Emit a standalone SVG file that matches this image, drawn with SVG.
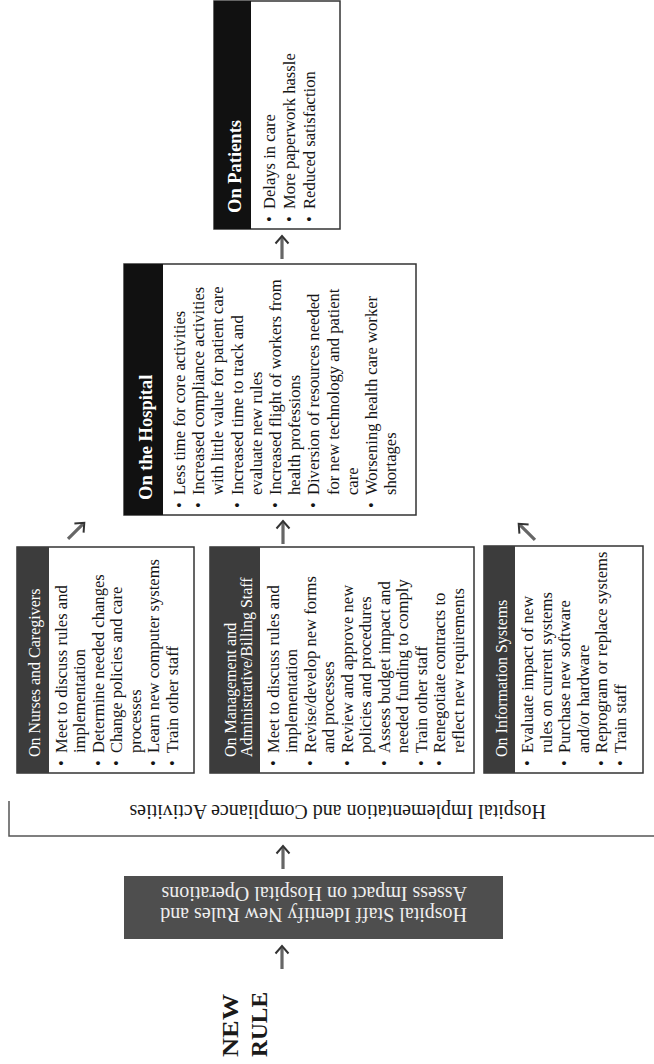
<svg xmlns="http://www.w3.org/2000/svg" xmlns:xlink="http://www.w3.org/1999/xlink" width="654" height="1064" viewBox="0 0 654 1064">
<style>
.t{font-family:"Liberation Serif","Times New Roman",serif;font-size:16.6px;fill:#151515}
.h{font-family:"Liberation Serif","Times New Roman",serif;font-size:16px;fill:#ffffff}
.hb{font-family:"Liberation Serif","Times New Roman",serif;font-size:18.5px;font-weight:bold;fill:#ffffff}
.big{font-family:"Liberation Serif","Times New Roman",serif;font-size:20px;fill:#1a1a1a}
.dk{font-family:"Liberation Serif","Times New Roman",serif;font-size:20px;fill:#eeeeee}
.nr{font-family:"Liberation Serif","Times New Roman",serif;font-size:24px;font-weight:bold;fill:#1a1a1a}
.box{fill:#ffffff;stroke:#333333;stroke-width:1.5}
.hg{fill:#3c3c3c}
.hk{fill:#111111}
.line{fill:none;stroke:#555555;stroke-width:1.5}
</style>
<defs>
<g id="arr">
<path d="M0,24 V3" stroke="#666666" stroke-width="3.2" fill="none"/>
<path d="M-6.5,8.5 L0,1 L6.5,8.5" fill="none" stroke="#333333" stroke-width="2"/>
</g>
</defs>

<g id="new-rule">
<g transform="translate(0,1057) rotate(-90)">
<text class="nr" x="0" y="238" textLength="63" lengthAdjust="spacingAndGlyphs">NEW</text>
<text class="nr" x="0" y="267" textLength="65" lengthAdjust="spacingAndGlyphs">RULE</text>
</g>
</g>

<g id="staff-box">
<rect x="124" y="876" width="379" height="63" fill="#4e4e4e"/>
<g transform="translate(467,908) rotate(180)">
<text class="dk" x="0" y="0">Hospital Staff Identify New Rules and</text>
<text class="dk" x="0" y="21">Assess Impact on Hospital Operations</text>
</g>
</g>

<g id="implementation">
<path class="line" d="M9,801 V836 H654"/>
<text class="big" transform="translate(546,805) rotate(180)" x="0" y="0">Hospital Implementation and Compliance Activities</text>
</g>

<g id="nurses">
<rect class="box" x="17" y="547" width="177" height="226"/>
<rect class="hg" x="17" y="547" width="32" height="226"/>
<g transform="translate(17,773) rotate(-90)">
<text class="h" x="16" y="23">On Nurses and Caregivers</text>
<text class="t" x="7" y="49.5">•</text><text class="t" x="20" y="49.5">Meet to discuss rules and</text>
<text class="t" x="20" y="68">implementation</text>
<text class="t" x="7" y="86.5">•</text><text class="t" x="20" y="86.5">Determine needed changes</text>
<text class="t" x="7" y="105">•</text><text class="t" x="20" y="105">Change policies and care</text>
<text class="t" x="20" y="123.5">processes</text>
<text class="t" x="7" y="142">•</text><text class="t" x="20" y="142">Learn new computer systems</text>
<text class="t" x="7" y="160.5">•</text><text class="t" x="20" y="160.5">Train other staff</text>
</g>
</g>

<g id="management">
<rect class="box" x="210" y="547" width="264" height="226"/>
<rect class="hg" x="210" y="547" width="50" height="226"/>
<g transform="translate(210,773) rotate(-90)">
<text class="h" x="16" y="26">On Management and</text>
<text class="h" x="16" y="42">Administrative/Billing Staff</text>
<text class="t" x="7" y="68.5">•</text><text class="t" x="20" y="68.5">Meet to discuss rules and</text>
<text class="t" x="20" y="87">implementation</text>
<text class="t" x="7" y="105.5">•</text><text class="t" x="20" y="105.5">Revise/develop new forms</text>
<text class="t" x="20" y="124">and processes</text>
<text class="t" x="7" y="142.5">•</text><text class="t" x="20" y="142.5">Review and approve new</text>
<text class="t" x="20" y="161">policies and procedures</text>
<text class="t" x="7" y="179.5">•</text><text class="t" x="20" y="179.5">Assess budget impact and</text>
<text class="t" x="20" y="198">needed funding to comply</text>
<text class="t" x="7" y="216.5">•</text><text class="t" x="20" y="216.5">Train other staff</text>
<text class="t" x="7" y="235">•</text><text class="t" x="20" y="235">Renegotiate contracts to</text>
<text class="t" x="20" y="253.5">reflect new requirements</text>
</g>
</g>

<g id="info-systems">
<rect class="box" x="484" y="546" width="159" height="227"/>
<rect class="hg" x="484" y="546" width="31" height="227"/>
<g transform="translate(484,773) rotate(-90)">
<text class="h" x="16" y="23">On Information Systems</text>
<text class="t" x="7" y="49">•</text><text class="t" x="20" y="49">Evaluate impact of new</text>
<text class="t" x="20" y="67.5">rules on current systems</text>
<text class="t" x="7" y="86">•</text><text class="t" x="20" y="86">Purchase new software</text>
<text class="t" x="20" y="104.5">and/or hardware</text>
<text class="t" x="7" y="123">•</text><text class="t" x="20" y="123">Reprogram or replace systems</text>
<text class="t" x="7" y="141.5">•</text><text class="t" x="20" y="141.5">Train staff</text>
</g>
</g>

<g id="hospital">
<rect class="box" x="124" y="264" width="292" height="251"/>
<rect class="hk" x="124" y="264" width="39" height="251"/>
<g transform="translate(124,515) rotate(-90)">
<text class="hb" x="15" y="28">On the Hospital</text>
<text class="t" x="7" y="61">•</text><text class="t" x="20" y="61">Less time for core activities</text>
<text class="t" x="7" y="80.2">•</text><text class="t" x="20" y="80.2">Increased compliance activities</text>
<text class="t" x="20" y="99.4">with little value for patient care</text>
<text class="t" x="7" y="118.6">•</text><text class="t" x="20" y="118.6">Increased time to track and</text>
<text class="t" x="20" y="137.8">evaluate new rules</text>
<text class="t" x="7" y="157">•</text><text class="t" x="20" y="157">Increased flight of workers from</text>
<text class="t" x="20" y="176.2">health professions</text>
<text class="t" x="7" y="195.4">•</text><text class="t" x="20" y="195.4">Diversion of resources needed</text>
<text class="t" x="20" y="214.6">for new technology and patient</text>
<text class="t" x="20" y="233.8">care</text>
<text class="t" x="7" y="253">•</text><text class="t" x="20" y="253">Worsening health care worker</text>
<text class="t" x="20" y="272.2">shortages</text>
</g>
</g>

<g id="patients">
<rect class="box" x="214" y="1" width="126" height="228"/>
<rect class="hk" x="214" y="1" width="37" height="228"/>
<g transform="translate(214,229) rotate(-90)">
<text class="hb" x="16" y="27">On Patients</text>
<text class="t" x="7" y="61">•</text><text class="t" x="20" y="61">Delays in care</text>
<text class="t" x="7" y="81">•</text><text class="t" x="20" y="81">More paperwork hassle</text>
<text class="t" x="7" y="101">•</text><text class="t" x="20" y="101">Reduced satisfaction</text>
</g>
</g>

<g id="connectors">
<use xlink:href="#arr" transform="translate(282,945)"/>
<use xlink:href="#arr" transform="translate(283,845)"/>
<use xlink:href="#arr" transform="translate(85,522) rotate(45)"/>
<use xlink:href="#arr" transform="translate(283,520)"/>
<use xlink:href="#arr" transform="translate(518,523) rotate(-45)"/>
<use xlink:href="#arr" transform="translate(282,235)"/>
</g>
</svg>
